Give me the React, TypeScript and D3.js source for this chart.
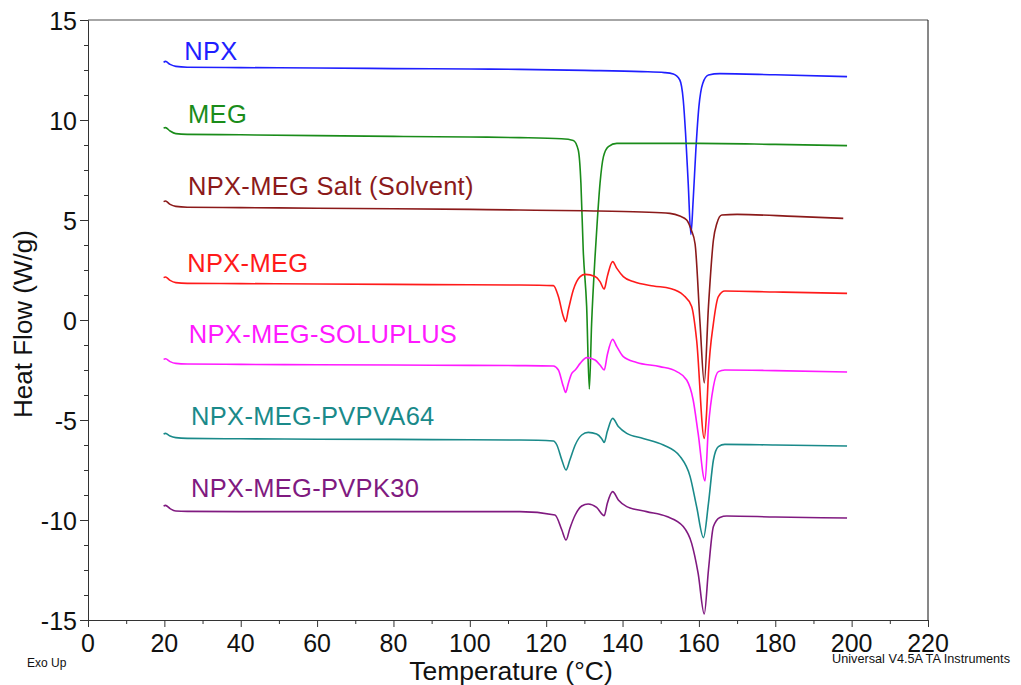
import * as d3 from 'd3';
import React, { useEffect, useRef } from 'react';

type Pt = [number, number]; // [temperature °C, heat flow W/g]

// Values
const npx: Pt[] = [
  [19.8, 12.88], [20.3, 12.93], [21.5, 12.78], [23, 12.68], [26, 12.64], [40, 12.62],
  [60, 12.6], [80, 12.57], [100, 12.55], [113, 12.53], [130, 12.48], [145, 12.42],
  [151, 12.37], [153.3, 12.3], [155, 12.0], [155.9, 11.0], [156.5, 9.35], [157.2, 6.83],
  [157.9, 4.28], [158.5, 6.0], [159.2, 8.5], [160, 10.67], [161, 11.83], [162.5, 12.25],
  [165.5, 12.32], [180, 12.26], [198.8, 12.17],
];

const meg: Pt[] = [
  [19.8, 9.6], [20.3, 9.62], [21.5, 9.45], [23, 9.32], [26, 9.28], [40, 9.26],
  [60, 9.22], [80, 9.18], [100, 9.15], [113, 9.12], [124, 9.06], [127.1, 8.98],
  [128.4, 8.5], [129.1, 6.83], [129.7, 3.5], [130.6, 0.67], [131.3, -3.45], [131.9, -0.17],
  [132.8, 3.17], [133.4, 5.0], [134.1, 6.83], [135, 8.17], [136.3, 8.67], [138.5, 8.83],
  [160, 8.83], [180, 8.78], [198.8, 8.72],
];

const salt: Pt[] = [
  [19.8, 5.92], [20.3, 5.95], [21.5, 5.78], [23, 5.68], [26, 5.64], [40, 5.62],
  [60, 5.59], [80, 5.56], [100, 5.53], [113, 5.5], [130, 5.46], [145, 5.4],
  [152.4, 5.33], [155, 5.2], [156.8, 5.0], [158, 4.5], [159, 3.8], [160.3, -0.17],
  [161.4, -3.15], [162.5, 0.67], [163.8, 4.0], [164.7, 4.83], [166, 5.25], [170, 5.28],
  [185, 5.18], [197.8, 5.08],
];

const npxMeg: Pt[] = [
  [19.8, 2.12], [20.3, 2.15], [21.5, 1.98], [23, 1.87], [26, 1.83], [40, 1.82],
  [60, 1.8], [80, 1.78], [100, 1.76], [113.1, 1.75], [121.9, 1.72], [123.2, 1.17],
  [124.5, 0.17], [125.1, -0.08], [125.8, 0.5], [127.1, 1.5], [128.9, 2.17], [130.2, 2.28],
  [132.8, 2.17], [134.1, 1.92], [135.2, 1.55], [136, 2.17], [137.4, 2.92], [138.5, 2.58],
  [140.2, 2.17], [142.8, 1.92], [148.1, 1.7], [152.5, 1.58], [155.9, 1.25], [158.1, 0.67],
  [159.4, -1.0], [161.4, -5.92], [162, -4.67], [162.5, -2.67], [163.8, -0.17], [165.1, 1.17],
  [166.8, 1.45], [180, 1.4], [198.8, 1.33],
];

const soluplus: Pt[] = [
  [19.8, -1.97], [20.3, -1.94], [21.5, -2.08], [23, -2.17], [26, -2.2], [40, -2.22],
  [60, -2.24], [80, -2.25], [100, -2.27], [113.1, -2.28], [121.9, -2.3], [123.2, -2.5],
  [124.5, -3.33], [125.1, -3.62], [125.8, -3.17], [126.7, -2.67], [127.6, -2.5], [128.9, -2.17],
  [130.6, -1.88], [132.8, -2.0], [134.1, -2.25], [135.2, -2.5], [136, -1.75], [137.4, -0.97],
  [138.5, -1.33], [140.2, -1.83], [143.7, -2.12], [149.8, -2.33], [154.2, -2.58], [156.8, -3.0],
  [158.5, -4.0], [159.8, -5.67], [161.6, -8.05], [162.5, -5.33], [163.8, -3.33], [165.1, -2.58],
  [166.8, -2.5], [180, -2.53], [198.8, -2.6],
];

const pvpva64: Pt[] = [
  [19.8, -5.7], [20.3, -5.67], [21.5, -5.8], [23, -5.88], [26, -5.92], [40, -5.94],
  [60, -5.96], [80, -5.97], [100, -5.99], [113.1, -6.0], [121.9, -6.05], [122.8, -6.25],
  [124.1, -7.0], [125.2, -7.5], [126.2, -7.0], [127.6, -6.25], [129.3, -5.75], [131, -5.62],
  [133.2, -5.7], [134.5, -5.92], [135.2, -6.12], [136, -5.58], [137.4, -4.92], [138.9, -5.33],
  [141.1, -5.67], [145.4, -5.92], [150.7, -6.25], [155.1, -6.83], [157.7, -7.83], [159.4, -9.33],
  [161.2, -10.88], [162.5, -9.17], [163.8, -7.0], [165.1, -6.33], [166.8, -6.22], [180, -6.25],
  [198.8, -6.3],
];

const pvpk30: Pt[] = [
  [19.8, -9.3], [20.3, -9.27], [21.5, -9.43], [23, -9.55], [26, -9.57], [40, -9.58],
  [60, -9.58], [80, -9.58], [100, -9.58], [113.1, -9.58], [122.3, -9.75], [124.1, -10.5],
  [125.2, -11.0], [126.2, -10.42], [127.6, -9.75], [129.3, -9.3], [131, -9.2], [133.2, -9.37],
  [135.2, -9.78], [136, -9.17], [137.4, -8.58], [138.9, -9.0], [141.1, -9.33], [146.3, -9.58],
  [151.6, -9.83], [155.9, -10.33], [158.1, -11.17], [159.8, -12.67], [161.4, -14.7], [162.5, -12.5],
  [163.8, -10.33], [165.5, -9.87], [167.3, -9.8], [180, -9.85], [198.8, -9.9],
];

const seriesNames = [
  'NPX', 'MEG', 'NPX-MEG Salt (Solvent)', 'NPX-MEG', 'NPX-MEG-SOLUPLUS', 'NPX-MEG-PVPVA64', 'NPX-MEG-PVPK30',
];
const seriesColors = ['#1f1fff', '#1a8c1a', '#8b1a1a', '#ff1a1a', '#ff1aff', '#1a8a8a', '#801a80'];
const seriesData = [npx, meg, salt, npxMeg, soluplus, pvpva64, pvpk30];
// label anchor, in data units (temperature, heat flow)
const labelPos: Pt[] = [
  [25.2, 13.0], [26.2, 9.85], [26.2, 6.25], [26, 2.4], [26.4, -1.15], [27, -5.25], [27, -8.85],
];

const xTicks = d3.range(0, 221, 20);
const yTicks = d3.range(-15, 16, 5);

const App: React.FC = () => {
  const ref = useRef<SVGSVGElement>(null);
  const width = 1021;
  const height = 685;
  const m = { left: 88, right: 93, top: 20, bottom: 65 };

  useEffect(() => {
    const svg = d3.select(ref.current);
    svg.selectAll('*').remove();

    const x = d3.scaleLinear().domain([0, 220]).range([m.left, width - m.right]);
    const y = d3.scaleLinear().domain([-15, 15]).range([height - m.bottom, m.top]);
    const font = '"Liberation Sans", Arial, sans-serif';

    // frame: top grey, right black
    svg.append('line')
      .attr('x1', x(0)).attr('x2', x(220)).attr('y1', y(15)).attr('y2', y(15))
      .attr('stroke', '#888').attr('stroke-width', 1.5);
    svg.append('line')
      .attr('x1', x(220)).attr('x2', x(220)).attr('y1', y(15)).attr('y2', y(-15))
      .attr('stroke', '#111').attr('stroke-width', 1);

    // x axis
    const xAxis = svg.append('g').attr('transform', `translate(0,${y(-15)})`);
    xAxis.call(d3.axisBottom(x).tickValues(d3.range(0, 221, 10)).tickSize(4).tickFormat(() => ''));
    xAxis.call(g => g.selectAll('.tick').filter(d => (d as number) % 20 === 0).select('line').attr('y2', 7));
    xAxis.selectAll('.domain').attr('stroke', '#333');
    xAxis.selectAll('line').attr('stroke', '#333');
    xAxis.selectAll('.tick text').remove();
    svg.append('g').selectAll('text').data(xTicks).join('text')
      .attr('x', d => x(d)).attr('y', 652)
      .attr('text-anchor', 'middle')
      .attr('font-family', font).attr('font-size', 25).attr('fill', '#111')
      .text(d => d);

    // y axis
    const yAxis = svg.append('g').attr('transform', `translate(${x(0)},0)`);
    yAxis.call(d3.axisLeft(y).tickValues(d3.range(-15, 15.01, 1.25)).tickSize(4).tickFormat(() => ''));
    yAxis.call(g => g.selectAll('.tick').filter(d => Math.abs((d as number) % 5) < 1e-6).select('line').attr('x2', -8));
    yAxis.selectAll('.domain').attr('stroke', '#333');
    yAxis.selectAll('line').attr('stroke', '#333');
    yAxis.selectAll('.tick text').remove();
    svg.append('g').selectAll('text').data(yTicks).join('text')
      .attr('x', 77).attr('y', d => y(d) + 9.5)
      .attr('text-anchor', 'end')
      .attr('font-family', font).attr('font-size', 25).attr('fill', '#111')
      .text(d => d);

    // axis titles
    svg.append('text')
      .attr('transform', `translate(32,324) rotate(-90)`)
      .attr('text-anchor', 'middle')
      .attr('font-family', font).attr('font-size', 26).attr('fill', '#111')
      .text('Heat Flow (W/g)');
    svg.append('text')
      .attr('x', 511).attr('y', 680)
      .attr('text-anchor', 'middle')
      .attr('font-family', font).attr('font-size', 26.5).attr('fill', '#111')
      .text('Temperature (°C)');
    svg.append('text')
      .attr('x', 27).attr('y', 667)
      .attr('font-family', font).attr('font-size', 12).attr('fill', '#111')
      .text('Exo Up');
    svg.append('text')
      .attr('x', 1010).attr('y', 663)
      .attr('text-anchor', 'end')
      .attr('font-family', font).attr('font-size', 12.7).attr('fill', '#111')
      .text('Universal V4.5A TA Instruments');

    // curves
    const line = d3.line<Pt>()
      .x(d => x(d[0]))
      .y(d => y(d[1]))
      .curve(d3.curveMonotoneX);

    seriesData.forEach((data, i) => {
      svg.append('path')
        .datum(data)
        .attr('fill', 'none')
        .attr('stroke', seriesColors[i])
        .attr('stroke-width', 1.6)
        .attr('stroke-linejoin', 'round')
        .attr('d', line);
    });

    // curve labels
    svg.append('g').selectAll('text').data(seriesNames).join('text')
      .attr('x', (_, i) => x(labelPos[i][0]))
      .attr('y', (_, i) => y(labelPos[i][1]))
      .attr('font-family', font).attr('font-size', 25.5)
      .attr('letter-spacing', 0.3)
      .attr('fill', (_, i) => seriesColors[i])
      .text(d => d);
  }, []);

  return (
    <div style={{ position: 'absolute', left: 0, top: 0 }}>
      <svg ref={ref} width={width} height={height} style={{ display: 'block', background: '#fff' }} />
    </div>
  );
};

export default App;
